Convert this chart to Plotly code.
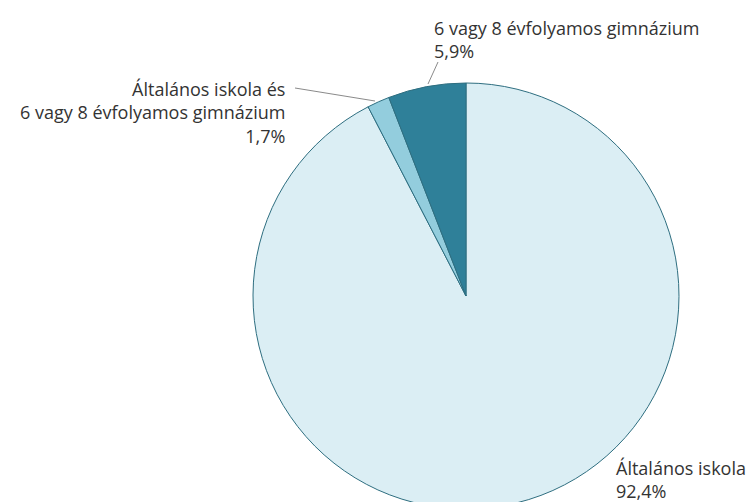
import plotly.graph_objects as go

labels = ["Általános iskola", "Általános iskola és 6 vagy 8 évfolyamos gimnázium", "6 vagy 8 évfolyamos gimnázium"]
values = [92.4, 1.7, 5.9]
value_text = ["92,4%", "1,7%", "5,9%"]
colors = ["#DBEEF4", "#93CDDD", "#2F8099"]

W, H = 756, 592
cx, cy, r = 466, 296, 213

fig = go.Figure(go.Pie(
    labels=labels, values=values, sort=False, direction="clockwise", rotation=0,
    marker=dict(colors=colors, line=dict(color="#2E6E80", width=1)),
    textinfo="none", hoverinfo="label+percent", showlegend=False,
    domain=dict(x=[(cx - r) / W, (cx + r) / W], y=[0, 1]),
))

font = dict(family="Open Sans", size=18, color="#333333")

def px(x):
    return x / W

def py(y):
    return 1 - y / H

anns = [
    dict(x=px(432), y=py(39), text=labels[2] + "<br>" + value_text[2], xanchor="left", yanchor="middle", align="left"),
    dict(x=px(287), y=py(112), text="Általános iskola és<br>6 vagy 8 évfolyamos gimnázium<br>" + value_text[1], xanchor="right", yanchor="middle", align="right"),
    dict(x=px(614), y=py(479), text=labels[0] + "<br>" + value_text[0], xanchor="left", yanchor="middle", align="left"),
]
for a in anns:
    fig.add_annotation(xref="paper", yref="paper", showarrow=False, font=font, **a)

# leader lines
fig.add_shape(type="line", xref="paper", yref="paper", x0=px(438), y0=py(62), x1=px(428), y1=py(84), line=dict(color="#8a8a8a", width=1))
fig.add_shape(type="line", xref="paper", yref="paper", x0=px(295), y0=py(88), x1=px(375), y1=py(101), line=dict(color="#8a8a8a", width=1))

fig.update_layout(width=W, height=H, margin=dict(l=0, r=0, t=0, b=0),
                  paper_bgcolor="white", plot_bgcolor="white")

fig.write_html("out.html", config={"displayModeBar": False},
               post_script="document.body.style.overflow='hidden';document.body.style.margin='0';")
